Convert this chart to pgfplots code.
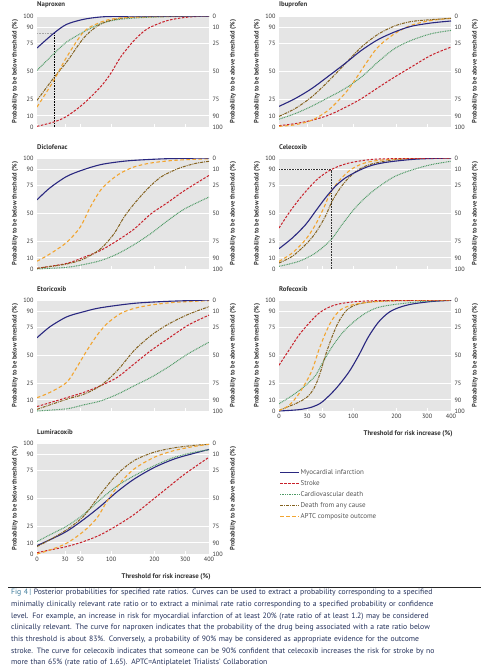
\documentclass[border=0pt]{standalone}
\usepackage{fontspec}
\setmainfont{PT Sans}
\usepackage{pgfplots}
\pgfplotsset{compat=1.18}
\definecolor{bg}{HTML}{E5E5E5}
\definecolor{mi}{HTML}{2A2880}
\definecolor{st}{HTML}{C8202A}
\definecolor{cv}{HTML}{4F9A66}
\definecolor{da}{HTML}{84621F}
\definecolor{ap}{HTML}{F2A530}
\definecolor{tx}{HTML}{333333}
\definecolor{lg}{HTML}{555555}
\definecolor{cap}{HTML}{22305A}
\definecolor{figc}{HTML}{3C7A9A}
\pgfplotsset{
  base/.style={scale only axis, width=172pt, height=111pt, xmin=0, xmax=1, ymin=0, ymax=100,
    anchor=north west, ytick={0,10,25,50,75,90,100}, major y tick style={draw=none},
    axis line style={draw=none}, yticklabel style={font=\fontsize{6.2}{7}\selectfont, text=tx},
    /pgf/number format/assume math mode=true,
    ylabel style={font=\bfseries\fontsize{6.5}{7}\selectfont, text=tx}},
  main/.style={base, axis background/.style={fill=bg}, axis x line*=bottom, axis y line*=left,
    ymajorgrids, grid style={white, line width=1pt},
    xtick={0,0.16302,0.25193,0.43068,0.68261,0.86135,1}, xticklabels={,,,,,,},
    xtick align=inside, major x tick style={white, line width=0.7pt}, major tick length=3pt,
    ylabel={Probability to be below threshold (\%)},
    ylabel style={at={(axis description cs:-0.128,0.5)}, anchor=center, rotate=0},
    title style={at={(axis description cs:0,1)}, anchor=south west, font=\bfseries\fontsize{6.8}{8}\selectfont, text=tx, inner sep=1.5pt, xshift=-1.5pt, yshift=0.5pt},
    no markers},
  rightax/.style={base, axis x line=none, axis y line*=right, yticklabels={100,90,75,50,25,10,0},
    ylabel={Probability to be above threshold (\%)},
    ylabel style={at={(axis description cs:1.14,0.5)}, anchor=center}},
  xlab/.style={xticklabels={0,30,50,100,200,300,400}, xticklabel style={font=\fontsize{6.2}{7}\selectfont, text=tx},
    xlabel={Threshold for risk increase (\%)},
    xlabel style={at={(axis description cs:1.03,0)}, anchor=east, yshift=-23pt, font=\bfseries\fontsize{6.8}{8}\selectfont, text=tx}},
  MI/.style={mi, line width=1.1pt, solid, smooth},
  ST/.style={st, line width=1pt, dash pattern=on 2.5pt off 1.5pt, smooth},
  CV/.style={cv, line width=1pt, dash pattern=on 0.9pt off 0.8pt, smooth},
  DA/.style={da, line width=1pt, dash pattern=on 3pt off 1pt on 1pt off 1pt, smooth},
  AP/.style={ap, line width=1.1pt, dash pattern=on 3.5pt off 2.5pt, smooth},
}
\begin{document}
\begin{tikzpicture}
\path[use as bounding box] (0,0) rectangle (495pt,-669pt);
% ---------------- Naproxen
\begin{axis}[main, at={(37pt,-16pt)}, title={Naproxen}]
\addplot[gray!70, dash pattern=on 0.8pt off 0.8pt, line width=0.9pt] coordinates {(0,84.5)(0.1,84.5)};
\addplot[black, dash pattern=on 0.8pt off 0.8pt, line width=0.6pt] coordinates {(0.1,0)(0.1,84.5)};
\addplot[CV] coordinates {(0,51)(0.098,66)(0.1725,76.6)(0.2706,85.6)(0.3686,93)(0.4667,96.7)(0.6039,98.5)(0.7608,99.4)(1,100)};
\addplot[ST] coordinates {(0,0.6)(0.098,4.5)(0.1725,9.6)(0.2706,21)(0.3686,36)(0.4275,48)(0.4863,63)(0.5647,78)(0.6431,88.6)(0.7608,96)(0.8784,99)(1,100)};
\addplot[DA] coordinates {(0,24)(0.098,44.4)(0.1725,58.6)(0.2706,80)(0.349,90.7)(0.4275,96)(0.5647,99)(1,100)};
\addplot[AP] coordinates {(0,18)(0.098,42)(0.1725,63)(0.2706,85.6)(0.349,93)(0.4275,97)(0.5647,99)(1,100)};
\addplot[MI] coordinates {(0,71.2)(0.098,84.5)(0.1725,92.5)(0.2706,97)(0.3686,99.1)(0.4667,99.7)(0.7,100)(1,100)};
\end{axis}
\begin{axis}[rightax, at={(37pt,-16pt)}]\end{axis}
% ---------------- Ibuprofen
\begin{axis}[main, at={(279pt,-16pt)}, title={Ibuprofen}]
\addplot[ST] coordinates {(0,1.2)(0.0927,3)(0.1892,6)(0.2857,10.5)(0.3822,17.4)(0.4788,25.5)(0.5753,35.4)(0.6718,45)(0.7683,54)(0.8842,64.6)(1,72)};
\addplot[CV] coordinates {(0,7)(0.0927,12)(0.1892,18.6)(0.2857,26.4)(0.3822,34.5)(0.4788,45)(0.5753,58.6)(0.6718,70.6)(0.7683,78)(0.8842,84)(1,87)};
\addplot[AP] coordinates {(0,0.6)(0.0927,2)(0.1892,6)(0.2857,15)(0.3822,30)(0.4402,42)(0.4981,55.6)(0.5753,72)(0.6718,84)(0.7683,91.6)(0.8842,96)(1,97.9)};
\addplot[DA] coordinates {(0,9.6)(0.0927,16.5)(0.1892,27)(0.2857,41)(0.3822,56.5)(0.4788,72)(0.5753,83.5)(0.6718,91)(0.7683,95)(0.8842,96.7)(1,97.9)};
\addplot[MI] coordinates {(0,18.6)(0.0927,25.5)(0.1892,34.5)(0.2857,45.6)(0.3822,57)(0.4788,69)(0.5753,78.7)(0.6718,85.6)(0.7683,90.7)(0.8842,93.7)(1,95.5)};
\end{axis}
\begin{axis}[rightax, at={(279pt,-16pt)}]\end{axis}
% ---------------- Diclofenac
\begin{axis}[main, at={(37pt,-158pt)}, title={Diclofenac}]
\addplot[CV] coordinates {(0,0)(0.1725,1.5)(0.2706,4)(0.3686,7.5)(0.4667,13.5)(0.5647,22)(0.6627,32)(0.7608,43.7)(0.8588,54.2)(1,64.8)};
\addplot[ST] coordinates {(0,0.6)(0.1725,5)(0.2706,10.5)(0.3686,16.6)(0.4667,25.6)(0.5647,36)(0.6627,49.7)(0.7608,60)(0.8588,70.8)(1,84.3)};
\addplot[DA] coordinates {(0,0.6)(0.1725,4.5)(0.2706,9)(0.3686,18)(0.4471,31.6)(0.5059,46.7)(0.5647,58.7)(0.6431,72.3)(0.7216,83)(0.8196,90.4)(0.9176,95)(1,97)};
\addplot[AP] coordinates {(0,7)(0.0745,13.5)(0.1725,24)(0.251,37.7)(0.3098,55.7)(0.3686,70.8)(0.4275,79.8)(0.4863,86.4)(0.5647,92)(0.6627,95.5)(0.8,97.9)(1,99.4)};
\addplot[MI] coordinates {(0,62.3)(0.0745,73)(0.1725,83.4)(0.2706,89.5)(0.3686,94)(0.4667,96.4)(0.5647,97.9)(0.7608,99.4)(1,100)};
\end{axis}
\begin{axis}[rightax, at={(37pt,-158pt)}]\end{axis}
% ---------------- Celecoxib
\begin{axis}[main, at={(279pt,-158pt)}, title={Celecoxib}]
\addplot[black!80, dash pattern=on 0.8pt off 0.8pt, line width=0.6pt] coordinates {(0,89.5)(0.3025,89.5)};
\addplot[black!80, dash pattern=on 0.8pt off 0.8pt, line width=0.6pt] coordinates {(0.3025,0)(0.3025,89.5)};
\addplot[CV] coordinates {(0,2.4)(0.1156,6.9)(0.212,14.4)(0.3025,26.4)(0.366,39.9)(0.4432,55)(0.5202,66.9)(0.5973,76)(0.6744,83.5)(0.768,89)(0.884,94)(1,97)};
\addplot[DA] coordinates {(0,5.4)(0.0771,11.4)(0.1541,21.9)(0.212,32.4)(0.2697,47.5)(0.3083,61)(0.3565,73)(0.4046,82)(0.4624,89.5)(0.5395,94.6)(0.7,98.8)(1,100)};
\addplot[AP] coordinates {(0,6.9)(0.0771,14.4)(0.1541,26.4)(0.212,39.9)(0.2601,55)(0.2987,68.5)(0.3468,79)(0.4046,88)(0.4624,93.4)(0.5395,97)(0.7,99.3)(1,100)};
\addplot[MI] coordinates {(0,18.3)(0.0771,27.9)(0.1541,39.9)(0.212,52)(0.2697,64)(0.3276,74.5)(0.3853,82)(0.4624,88.6)(0.5395,93.4)(0.6358,96.4)(0.8,99)(1,100)};
\addplot[ST] coordinates {(0,36.9)(0.0578,50.5)(0.1156,62.5)(0.1734,73)(0.2312,82)(0.3025,89.5)(0.3853,94.6)(0.4817,97.6)(0.6,99.2)(1,100)};
\end{axis}
\begin{axis}[rightax, at={(279pt,-158pt)}]\end{axis}
% ---------------- Etoricoxib
\begin{axis}[main, at={(37pt,-300pt)}, title={Etoricoxib}]
\addplot[CV] coordinates {(0,0)(0.1725,2)(0.2706,5.5)(0.3686,9)(0.4667,15)(0.5647,22.7)(0.6627,30.3)(0.7608,39.4)(0.8784,51.5)(1,62)};
\addplot[ST] coordinates {(0,4)(0.1725,12)(0.2706,16.7)(0.3686,22.7)(0.4667,30.3)(0.5647,42.4)(0.6627,54.5)(0.7608,65)(0.8784,77.3)(1,86.4)};
\addplot[DA] coordinates {(0,1.5)(0.1725,10.6)(0.2706,15)(0.3686,22.7)(0.4667,36.4)(0.5647,54.5)(0.6627,68)(0.7608,78)(0.8784,87)(1,94)};
\addplot[AP] coordinates {(0,12)(0.0745,16.7)(0.1725,25.8)(0.2314,39.4)(0.2902,54.5)(0.349,68.2)(0.4078,78.8)(0.4863,87.9)(0.5647,92.4)(0.6627,95.5)(0.8,97.9)(1,99.4)};
\addplot[MI] coordinates {(0,66)(0.0745,75.8)(0.1725,84.8)(0.2706,89.4)(0.3686,93)(0.5647,97)(0.7608,98.8)(1,100)};
\end{axis}
\begin{axis}[rightax, at={(37pt,-300pt)}]\end{axis}
% ---------------- Rofecoxib
\begin{axis}[main, xlab, at={(279pt,-300pt)}, title={Rofecoxib}]
\addplot[MI] coordinates {(0,0)(0.1156,1.2)(0.1927,3.6)(0.2505,8.1)(0.3276,19.6)(0.4046,34.7)(0.4624,49.8)(0.5202,66.9)(0.578,80)(0.6358,88.5)(0.6936,93)(0.768,96.2)(0.884,98.6)(1,99.7)};
\addplot[CV] coordinates {(0,6.5)(0.0771,14)(0.1541,23)(0.212,32)(0.2505,42.7)(0.3083,57.7)(0.3661,69.9)(0.4239,78.9)(0.501,88)(0.578,93.4)(0.6936,96.4)(0.85,98.8)(1,99.7)};
\addplot[DA] coordinates {(0,0.5)(0.1156,8)(0.1734,14)(0.212,23)(0.2408,35)(0.2697,50)(0.3083,66.8)(0.3468,80.4)(0.395,91)(0.4624,96.4)(0.6,99)(1,100)};
\addplot[AP] coordinates {(0,0.5)(0.0578,5)(0.1156,15.5)(0.1734,30.6)(0.2023,41)(0.2312,54.8)(0.2697,69.9)(0.3083,81.9)(0.3565,91)(0.4239,95.5)(0.501,97.6)(0.65,99.3)(1,100)};
\addplot[ST] coordinates {(0,41.2)(0.0578,54.8)(0.1156,68.3)(0.1734,78.9)(0.2312,88)(0.289,93.4)(0.3468,96.4)(0.4432,98.5)(0.6,99.5)(1,100)};
\end{axis}
\begin{axis}[rightax, at={(279pt,-300pt)}]\end{axis}
% ---------------- Lumiracoxib
\begin{axis}[main, xlab, at={(37pt,-443pt)}, title={Lumiracoxib},
  legend style={at={(axis description cs:1.409,0.784)}, anchor=north west, draw=none, fill=none,
    font=\fontsize{7}{8}\selectfont, text=lg, inner sep=0pt, row sep=1pt,
    nodes={inner sep=1pt, text height=6pt, text depth=2pt}, cells={anchor=west}},
  legend image code/.code={\draw[#1] (0pt,0pt) -- (19pt,0pt);}]
\addplot[MI] coordinates {(0,7.6)(0.0745,12.8)(0.1725,20.4)(0.2706,31)(0.3686,43)(0.4667,56.2)(0.5647,67.5)(0.6824,78)(0.8,85.7)(0.9176,90.9)(1,94.2)};
\addlegendentry{Myocardial infarction}
\addplot[ST] coordinates {(0,1.2)(0.0745,3.6)(0.1725,6.7)(0.2706,11.2)(0.3686,17.3)(0.4667,25.8)(0.5647,35.6)(0.6627,47.7)(0.7608,59.9)(0.8588,72)(1,87.2)};
\addlegendentry{Stroke}
\addplot[CV] coordinates {(0,11.2)(0.0745,17.3)(0.1725,25)(0.2706,35.6)(0.3686,49.2)(0.4667,61.4)(0.5647,70.5)(0.6824,79.6)(0.8,87.2)(0.9176,91.8)(1,93.9)};
\addlegendentry{Cardiovascular death}
\addplot[DA] coordinates {(0,6.7)(0.0745,12.8)(0.1725,21.9)(0.2706,34)(0.3686,53.8)(0.4667,72)(0.5647,84.2)(0.6824,91.8)(0.8,95.7)(0.9176,97.9)(1,98.8)};
\addlegendentry{Death from any cause}
\addplot[AP] coordinates {(0,0)(0.0745,3.6)(0.1725,9.7)(0.2706,20.4)(0.349,32.5)(0.4078,47.7)(0.4863,64.4)(0.5647,76.6)(0.6824,87.2)(0.8,93.3)(0.9176,97)(1,98.8)};
\addlegendentry{APTC composite outcome}
\end{axis}
\begin{axis}[rightax, at={(37pt,-443pt)}]\end{axis}
% ---------------- caption
\draw[line width=1pt, black!85] (8pt,-587pt) -- (481pt,-587pt);
\node[anchor=north west, inner sep=0pt, text width=476pt, align=left, font=\fontsize{7.7}{11.7}\selectfont, text=cap] at (11pt,-589pt)
{\textcolor{figc}{Fig 4\,|}\ Posterior probabilities for specified rate ratios. Curves can be used to extract a probability corresponding to a specified\\
minimally clinically relevant rate ratio or to extract a minimal rate ratio corresponding to a specified probability or confidence\\
level. For example, an increase in risk for myocardial infarction of at least 20\% (rate ratio of at least 1.2) may be considered\\
clinically relevant. The curve for naproxen indicates that the probability of the drug being associated with a rate ratio below\\
this threshold is about 83\%. Conversely, a probability of 90\% may be considered as appropriate evidence for the outcome\\
stroke. The curve for celecoxib indicates that someone can be 90\% confident that celecoxib increases the risk for stroke by no\\
more than 65\% (rate ratio of 1.65). APTC=Antiplatelet Trialists’ Collaboration};
\end{tikzpicture}
\end{document}
